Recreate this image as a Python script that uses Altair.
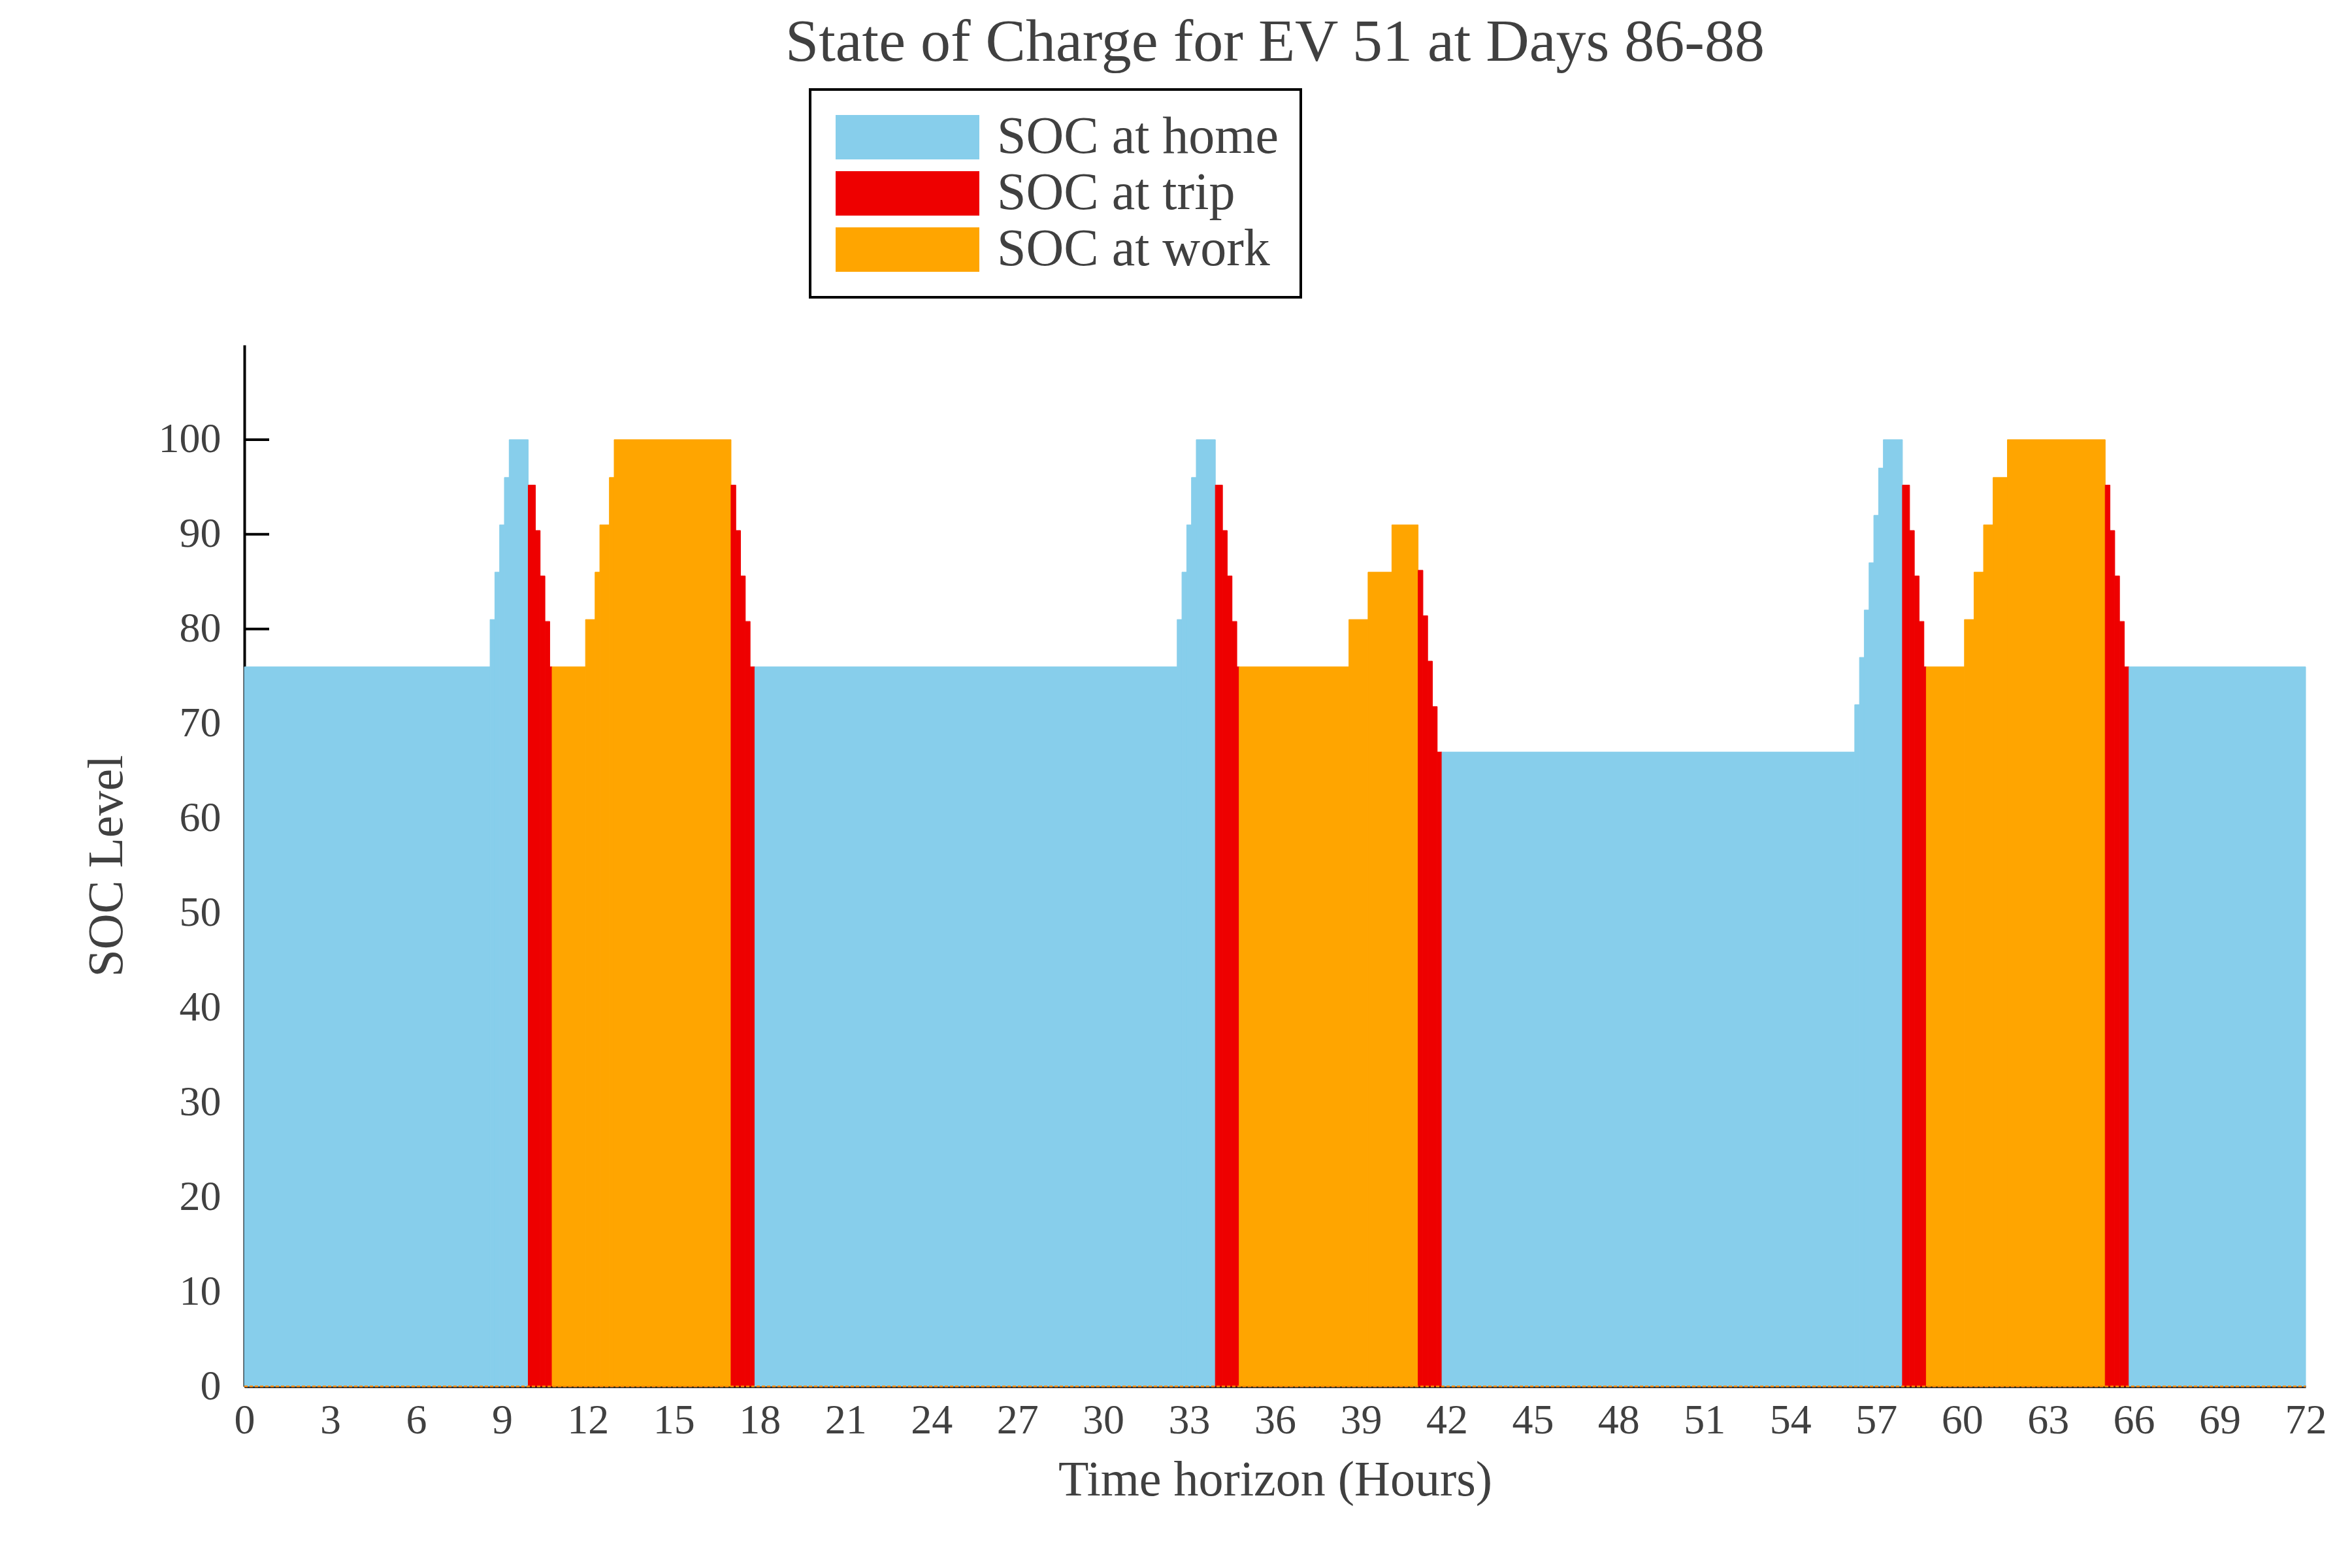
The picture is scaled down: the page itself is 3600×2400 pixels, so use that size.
import altair as alt
import pandas as pd

# Segments of the SOC profile (hours from start, SOC level, location)
seg_start = [0.0, 8.583, 8.75, 8.917, 9.083, 9.25,
             9.917, 10.167, 10.333, 10.5, 10.667,
             10.75, 11.917, 12.25, 12.417, 12.75, 12.917,
             17.0, 17.167, 17.333, 17.5, 17.667,
             17.833, 32.583, 32.75, 32.917, 33.083, 33.25,
             33.917, 34.167, 34.333, 34.5, 34.667,
             34.75, 38.583, 39.25, 40.083,
             41.0, 41.167, 41.333, 41.5, 41.667,
             41.833, 56.25, 56.417, 56.583, 56.75, 56.917, 57.083, 57.25,
             57.917, 58.167, 58.333, 58.5, 58.667,
             58.75, 60.083, 60.417, 60.75, 61.083, 61.583,
             65.0, 65.167, 65.333, 65.5, 65.667,
             65.833]
seg_end = [8.583, 8.75, 8.917, 9.083, 9.25, 9.917,
           10.167, 10.333, 10.5, 10.667, 10.75,
           11.917, 12.25, 12.417, 12.75, 12.917, 17.0,
           17.167, 17.333, 17.5, 17.667, 17.833,
           32.583, 32.75, 32.917, 33.083, 33.25, 33.917,
           34.167, 34.333, 34.5, 34.667, 34.75,
           38.583, 39.25, 40.083, 41.0,
           41.167, 41.333, 41.5, 41.667, 41.833,
           56.25, 56.417, 56.583, 56.75, 56.917, 57.083, 57.25, 57.917,
           58.167, 58.333, 58.5, 58.667, 58.75,
           60.083, 60.417, 60.75, 61.083, 61.583, 65.0,
           65.167, 65.333, 65.5, 65.667, 65.833,
           72.0]
seg_soc = [76.0, 81.0, 86.0, 91.0, 96.0, 100.0,
           95.2, 90.4, 85.6, 80.8, 76.0,
           76.0, 81.0, 86.0, 91.0, 96.0, 100.0,
           95.2, 90.4, 85.6, 80.8, 76.0,
           76.0, 81.0, 86.0, 91.0, 96.0, 100.0,
           95.2, 90.4, 85.6, 80.8, 76.0,
           76.0, 81.0, 86.0, 91.0,
           86.2, 81.4, 76.6, 71.8, 67.0,
           67.0, 72.0, 77.0, 82.0, 87.0, 92.0, 97.0, 100.0,
           95.2, 90.4, 85.6, 80.8, 76.0,
           76.0, 81.0, 86.0, 91.0, 96.0, 100.0,
           95.2, 90.4, 85.6, 80.8, 76.0,
           76.0]
seg_place = (["SOC at home"] * 6 + ["SOC at trip"] * 5 + ["SOC at work"] * 6
             + ["SOC at trip"] * 5 + ["SOC at home"] * 6 + ["SOC at trip"] * 5
             + ["SOC at work"] * 4 + ["SOC at trip"] * 5 + ["SOC at home"] * 8
             + ["SOC at trip"] * 5 + ["SOC at work"] * 6 + ["SOC at trip"] * 5
             + ["SOC at home"] * 1)

place_labels = ["SOC at home", "SOC at trip", "SOC at work"]
place_colors = ["#87ceeb", "#ee0000", "#ffa500"]
x_ticks = list(range(0, 73, 3))
y_ticks = list(range(0, 101, 10))

df = pd.DataFrame({"start": seg_start, "end": seg_end, "soc": seg_soc, "place": seg_place})
df["base"] = 0.0

W, H = 3155, 1594
FONT = "Liberation Serif"
TXT = "#404040"

xscale = alt.Scale(domain=[0, 72], nice=False, zero=False)
yscale = alt.Scale(domain=[0, 110], nice=False)

xaxis = alt.Axis(values=x_ticks, title="Time horizon (Hours)", labelFlush=False, labelOverlap=False,
                 ticks=False, tickSize=0, labelPadding=20, titlePadding=22, grid=False)
yaxis = alt.Axis(values=y_ticks, title="SOC Level", labelOverlap=False,
                 ticks=False, tickSize=0, labelPadding=36, titlePadding=40, grid=False)

# wide rectangular swatch: 68 px tall, 220 px wide, left edge at the entry's left
legend = alt.Legend(title=None, orient="none", legendX=866, legendY=-391, direction="vertical",
                    symbolType="M-1,-1H5.47V1H-1Z", symbolSize=4624, symbolStrokeWidth=0,
                    labelOffset=173, rowPadding=6, padding=33,
                    strokeColor="black", fillColor="white")

tick_layer = alt.Chart(pd.DataFrame({"yt": y_ticks})).mark_rule(color="black", strokeWidth=4).encode(
    y=alt.Y("yt:Q", scale=yscale, axis=yaxis),
    x=alt.value(0), x2=alt.value(38),
)

bars = alt.Chart(df).mark_rect(strokeWidth=1).encode(
    x=alt.X("start:Q", scale=xscale, axis=xaxis),
    x2="end:Q",
    y=alt.Y("soc:Q", scale=yscale, axis=yaxis),
    y2="base:Q",
    color=alt.Color("place:N", scale=alt.Scale(domain=place_labels, range=place_colors), legend=legend),
    stroke=alt.Stroke("place:N", scale=alt.Scale(domain=place_labels, range=place_colors), legend=None),
)

base_line = alt.Chart(pd.DataFrame({"x0": [0.0], "x1": [72.0], "yb": [0.0]})).mark_rule(
    color="#ff8c00", strokeWidth=2.5, strokeDash=[5, 3]).encode(
    x=alt.X("x0:Q", scale=xscale, axis=xaxis), x2="x1:Q",
    y=alt.Y("yb:Q", scale=yscale, axis=yaxis),
)

chart = alt.layer(tick_layer, bars, base_line).properties(
    width=W, height=H,
    autosize=alt.AutoSizeParams(type="none"),
    padding={"left": 366, "top": 520, "right": 63, "bottom": 250},
    title=alt.TitleParams("State of Charge for EV 51 at Days 86-88", font=FONT, fontSize=92,
                          fontWeight="normal", color=TXT, anchor="middle", offset=23),
).configure_view(stroke=None).configure_axis(
    labelFont=FONT, labelFontSize=64, labelColor=TXT,
    titleFont=FONT, titleFontSize=76, titleColor=TXT, titleFontWeight="normal",
    domainColor="black", domainWidth=4,
).configure_legend(
    labelFont=FONT, labelFontSize=80, labelColor=TXT, labelLimit=0, strokeWidth=4,
)

chart.save("out.html", embed_options={"renderer": "svg", "actions": False})
